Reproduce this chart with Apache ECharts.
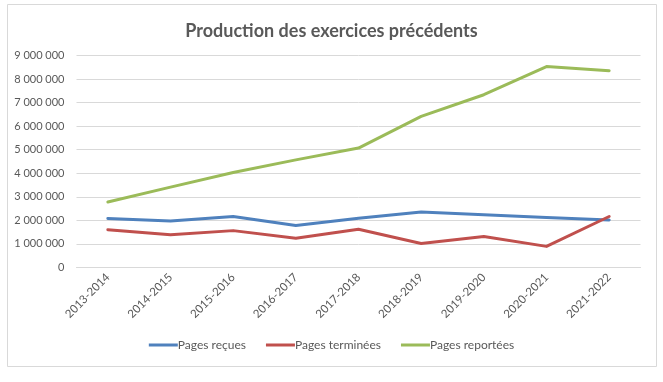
<!DOCTYPE html>
<html><head><meta charset="utf-8">
<script src="https://cdn.jsdelivr.net/npm/echarts@6/dist/echarts.min.js"></script>
<style>html,body{margin:0;padding:0;background:#fff}#c{width:663px;height:382px}</style>
</head><body><div id="c"></div>
<script>
const categories = ['2013-2014','2014-2015','2015-2016','2016-2017','2017-2018','2018-2019','2019-2020','2020-2021','2021-2022'];
const pagesRecues = [2080000,1970000,2160000,1780000,2090000,2350000,2230000,2120000,2010000];
const pagesTerminees = [1600000,1380000,1560000,1240000,1620000,1010000,1310000,890000,2160000];
const pagesReportees = [2780000,3410000,4030000,4570000,5070000,6420000,7340000,8540000,8360000];
const seriesNames = ['Pages reçues','Pages terminées','Pages reportées'];
const colors = ['#4F81BD','#C0504D','#9BBB59'];
const font = 'Lato, "Open Sans", sans-serif';
const chart = echarts.init(document.getElementById('c'));
const fmt = v => String(v).replace(/\B(?=(\d{3})+(?!\d))/g, ' ');
chart.setOption({
  animation: false,
  backgroundColor: '#fff',
  graphic: [{type:'rect', shape:{x:7.5,y:4.5,width:649,height:362}, style:{fill:'none', stroke:'#d9d9d9', lineWidth:1}, z:-1}],
  title: {text:'Production des exercices précédents', left:'center', top:17,
    textStyle:{fontFamily:font, fontSize:18, fontWeight:'bold', color:'#595959'}},
  grid: {left:76.5, right:22.5, top:55.7, bottom:114.7},
  legend: {bottom:26, left:'center', itemWidth:29, itemHeight:3, icon:'rect', itemGap:20,
    textStyle:{fontFamily:font, fontSize:12, color:'#595959', padding:[0,0,0,-5]}},
  xAxis: {type:'category', data:categories, boundaryGap:true,
    axisLine:{lineStyle:{color:'#d9d9d9'}}, axisTick:{show:false},
    axisLabel:{rotate:45, interval:0, fontFamily:font, fontSize:11.5, color:'#595959', margin:8}},
  yAxis: {type:'value', min:0, max:9000000, interval:1000000,
    axisLine:{show:false}, axisTick:{show:false},
    splitLine:{lineStyle:{color:'#d9d9d9'}},
    axisLabel:{formatter:fmt, fontFamily:font, fontSize:11, color:'#595959', margin:12}},
  series: [pagesRecues, pagesTerminees, pagesReportees].map((d,i)=>({
    name:seriesNames[i], type:'line', data:d, symbol:'none', color:colors[i],
    lineStyle:{width:3, color:colors[i], cap:'round', join:'round'}
  }))
});
</script></body></html>
